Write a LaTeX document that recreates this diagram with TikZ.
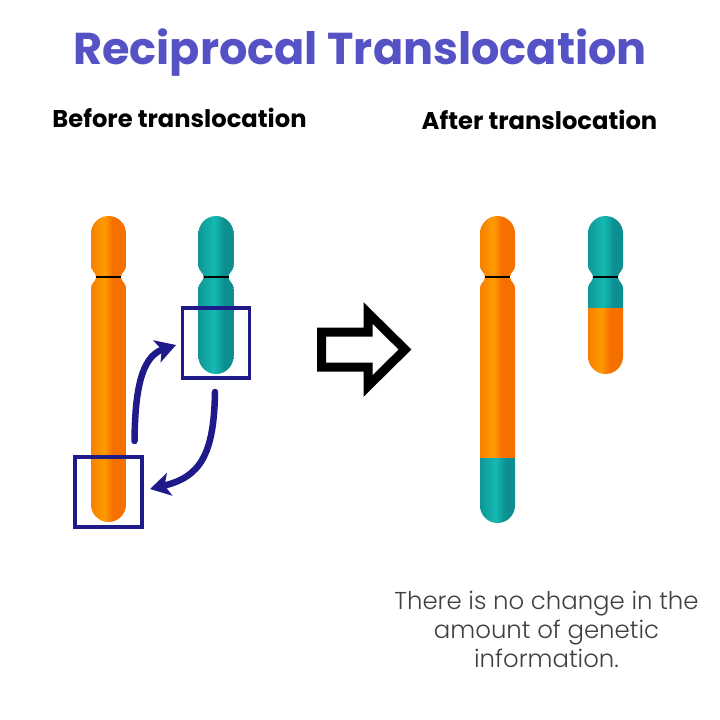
\documentclass[tikz,border=0pt]{standalone}
\usepackage{fontspec}
\setmainfont{Poppins}
\newfontfamily\thinfont[UprightFont=* Light]{Poppins}
\usepackage{tikz}
\usetikzlibrary{positioning}
\usetikzlibrary{arrows.meta}
\definecolor{titleblue}{HTML}{5552C6}
\definecolor{boxblue}{HTML}{1F1A8A}
\definecolor{orangeA}{HTML}{F68000}
\definecolor{orangeB}{HTML}{FF9A00}
\definecolor{orangeC}{HTML}{F67000}
\definecolor{tealA}{HTML}{109696}
\definecolor{tealB}{HTML}{14BAB2}
\definecolor{tealC}{HTML}{0D8E90}
\pgfdeclarehorizontalshading{orangeband}{100bp}{color(0bp)=(orangeA); color(25bp)=(orangeA); color(44bp)=(orangeB); color(56bp)=(orangeC); color(75bp)=(orangeC); color(100bp)=(orangeC)}
\pgfdeclarehorizontalshading{tealband}{100bp}{color(0bp)=(tealA); color(25bp)=(tealA); color(47bp)=(tealB); color(62bp)=(tealC); color(75bp)=(tealC); color(100bp)=(tealC)}
% #1 left edge, #2 bottom end, #3 colour change, #4 upper colour, #5 lower colour
\newcommand{\chromosome}[5]{
  \begin{scope}[shift={(#1,0)}]
    \begin{scope}
      \clip (0,233.5) arc[start angle=180,end angle=360,radius=17.5] -- (35,265)
        .. controls (35,272) and (30,272) .. (30,277) .. controls (30,282) and (35,282) .. (35,289)
        -- (35,#2-17.5) arc[start angle=0,end angle=180,radius=17.5] -- (0,289)
        .. controls (0,282) and (5,282) .. (5,277) .. controls (5,272) and (0,272) .. (0,265) -- cycle;
      \shade[shading=#4band] (0,210) rectangle (35,#3);
      \shade[shading=#5band] (0,#3) rectangle (35,#2);
    \end{scope}
    \draw[black,line width=1.8pt] (5,277) -- (30,277);
  \end{scope}
}
\begin{document}
\begin{tikzpicture}[x=1pt,y=-1pt]
\tikzset{heading/.style={font=\bfseries\fontsize{24.2}{29}\selectfont,text=black,inner sep=0pt}}
\tikzset{swapbox/.style={draw=boxblue,line width=3.3pt,minimum width=67pt,minimum height=70pt,inner sep=0pt}}
\tikzset{swaparrow/.style={draw=boxblue,line width=6.5pt,line cap=round,-{Stealth[length=20pt,width=23pt,inset=5pt]}}}
    \useasboundingbox (0,0) rectangle (720,720);
    \fill[white] (0,0) rectangle (720,720);
    \node[font=\bfseries\fontsize{44.6}{52}\selectfont,text=titleblue,inner sep=0pt] (title) at (360,53) {Reciprocal Translocation};
    \node[heading] (before) at (179.5,118) {Before translocation};
    \node[heading] (after) at (539.5,120) {After translocation};
    % chromosomes
    \chromosome{91}{522}{522}{orange}{orange}
    \chromosome{198.5}{374}{374}{teal}{teal}
    \chromosome{480}{523}{458}{orange}{teal}
    \chromosome{588}{374}{308}{teal}{orange}
    % swapped parts
    \node[swapbox] (lowerbox) at (108.5,492) {};
    \node[swapbox] (upperbox) at (216,343) {};
    \coordinate (upstart) at (134.5,441);
    \coordinate (upend) at (176,345);
    \coordinate (downstart) at (215,392);
    \coordinate (downend) at (150,489);
    \path[swaparrow] (upstart) .. controls (135,395) and (140,357) .. (upend);
    \path[swaparrow] (downstart) .. controls (214,455) and (200,477) .. (downend);
    % big arrow
    \draw[black,line width=9pt,miter limit=10] (321.5,332) -- (368,332) -- (368,313) -- (405,349.5) -- (368,386) -- (368,367) -- (321.5,367) -- cycle;
    \node[font=\thinfont\fontsize{24.4}{29}\selectfont,text=black!75,align=center,inner sep=0pt] (note) at (546.5,629) {There is no change in the\\amount of genetic\\information.};
\end{tikzpicture}
\end{document}
